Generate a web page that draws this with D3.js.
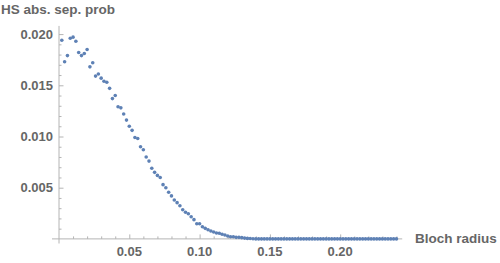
<!DOCTYPE html>
<html>
<head>
<meta charset="utf-8">
<script src="https://cdn.jsdelivr.net/npm/d3@7"></script>
<style>
    body { margin: 0; background: #fff; }
    .lbl { font-family: "Liberation Sans", Arial, sans-serif; font-weight: bold; fill: #666; }
</style>
</head>
<body>
<div id="chart"></div>
<script>

// Bloch radius (x) and HS absolute separable probability (y)
let blochRadius = [
    0.002, 0.004, 0.006, 0.008, 0.010, 0.012, 0.014, 0.016, 0.018, 0.020,
    0.022, 0.024, 0.026, 0.028, 0.030, 0.032, 0.034, 0.036, 0.038, 0.040,
    0.042, 0.044, 0.046, 0.048, 0.050, 0.052, 0.054, 0.056, 0.058, 0.060,
    0.062, 0.064, 0.066, 0.068, 0.070, 0.072, 0.074, 0.076, 0.078, 0.080,
    0.082, 0.084, 0.086, 0.088, 0.090, 0.092, 0.094, 0.096, 0.098, 0.100,
    0.102, 0.104, 0.106, 0.108, 0.110, 0.112, 0.114, 0.116, 0.118, 0.120,
    0.122, 0.124, 0.126, 0.128, 0.130, 0.132, 0.134, 0.136, 0.138, 0.140,
    0.142, 0.144, 0.146, 0.148, 0.150, 0.152, 0.154, 0.156, 0.158, 0.160,
    0.162, 0.164, 0.166, 0.168, 0.170, 0.172, 0.174, 0.176, 0.178, 0.180,
    0.182, 0.184, 0.186, 0.188, 0.190, 0.192, 0.194, 0.196, 0.198, 0.200,
    0.202, 0.204, 0.206, 0.208, 0.210, 0.212, 0.214, 0.216, 0.218, 0.220,
    0.222, 0.224, 0.226, 0.228, 0.230, 0.232, 0.234, 0.236, 0.238, 0.240
];

let sepProb = [
    0.0194, 0.0173, 0.0179, 0.0196, 0.0197, 0.0193, 0.0182, 0.0179, 0.0181, 0.0185,
    0.0168, 0.0172, 0.0159, 0.0161, 0.0157, 0.0154, 0.0153, 0.0147, 0.0137, 0.0140,
    0.0129, 0.0128, 0.0122, 0.0116, 0.0110, 0.0106, 0.0099, 0.0098, 0.0090, 0.0087,
    0.0080, 0.0076, 0.0069, 0.0065, 0.0062, 0.0060, 0.0053, 0.0050, 0.00455, 0.0042,
    0.0038, 0.00354, 0.00324, 0.00285, 0.0026, 0.00246, 0.00217, 0.00188, 0.00148, 0.00148,
    0.00119, 0.00103, 0.0009, 0.00077, 0.00067, 0.00058, 0.00055, 0.00045, 0.00038, 0.00028,
    0.00021, 0.00021, 0.00015, 0.00015, 0.00012, 0.00008, 0.00005, 0.00004, 0.00002, 0,
    0, 0, 0, 0, 0, 0, 0, 0, 0, 0,
    0, 0, 0, 0, 0, 0, 0, 0, 0, 0,
    0, 0, 0, 0, 0, 0, 0, 0, 0, 0,
    0, 0, 0, 0, 0, 0, 0, 0, 0, 0,
    0, 0, 0, 0, 0, 0, 0, 0, 0, 0
];

let xTicks = [0.05, 0.10, 0.15, 0.20];
let yTicks = [0.005, 0.010, 0.015, 0.020];

let xLabel = "Bloch radius";
let yLabel = "HS abs. sep. prob";

let w = 500;
let h = 263;

let xScale = d3.scaleLinear()
    .domain([0, 0.05])
    .range([59, 129.3]);

let yScale = d3.scaleLinear()
    .domain([0, 0.005])
    .range([238.9, 187.7]);

let svg = d3.select("#chart")
    .append("svg")
    .attr("width", w)
    .attr("height", h);

let axisColor = "#b4b4b4";

// x axis (ticks pointing up, minor every 0.01)
let xAxis = d3.axisTop(xScale)
    .tickValues(d3.range(0.01, 0.245, 0.01))
    .tickSize(3)
    .tickFormat("");

let gx = svg.append("g")
    .attr("transform", "translate(0," + yScale(0) + ")")
    .call(xAxis);

gx.select(".domain").remove();
gx.selectAll(".tick line")
    .attr("stroke", axisColor)
    .attr("y2", (d) => {
        let major = xTicks.some(t => Math.abs(t - d) < 1e-9);
        return major ? -4.5 : -2.5;
    });

gx.append("line")
    .attr("x1", 52)
    .attr("x2", xScale(0.2441))
    .attr("stroke", axisColor);

// y axis (ticks pointing right, minor every 0.001)
let yAxis = d3.axisRight(yScale)
    .tickValues(d3.range(0.001, 0.0205, 0.001))
    .tickSize(3)
    .tickFormat("");

let gy = svg.append("g")
    .attr("transform", "translate(" + xScale(0) + ",0)")
    .call(yAxis);

gy.select(".domain").remove();
gy.selectAll(".tick line")
    .attr("stroke", axisColor)
    .attr("x2", (d) => {
        let major = yTicks.some(t => Math.abs(t - d) < 1e-9);
        return major ? 4.5 : 2.5;
    });

gy.append("line")
    .attr("y1", 243.5)
    .attr("y2", yScale(0.0208))
    .attr("stroke", axisColor);

// tick labels
svg.selectAll(".xlab")
    .data(xTicks)
    .enter()
    .append("text")
    .attr("class", "lbl")
    .attr("x", d => xScale(d))
    .attr("y", 256)
    .attr("text-anchor", "middle")
    .style("font-size", "13px")
    .text(d => d3.format(".2f")(d));

svg.selectAll(".ylab")
    .data(yTicks)
    .enter()
    .append("text")
    .attr("class", "lbl")
    .attr("x", 53)
    .attr("y", d => yScale(d) + 4.5)
    .attr("text-anchor", "end")
    .style("font-size", "13px")
    .text(d => d3.format(".3f")(d));

// axis labels
svg.append("text")
    .attr("class", "lbl")
    .attr("x", 1)
    .attr("y", 14)
    .style("font-size", "13.5px")
    .text(yLabel);

svg.append("text")
    .attr("class", "lbl")
    .attr("x", 415)
    .attr("y", 243)
    .style("font-size", "13.5px")
    .text(xLabel);

// points
let pts = blochRadius.map((r, i) => ({r: r, p: sepProb[i]}));

svg.selectAll("circle")
    .data(pts)
    .enter()
    .append("circle")
    .attr("cx", d => xScale(d.r))
    .attr("cy", d => yScale(d.p))
    .attr("r", 1.8)
    .attr("fill", "#5e81b5");

</script>
</body>
</html>
